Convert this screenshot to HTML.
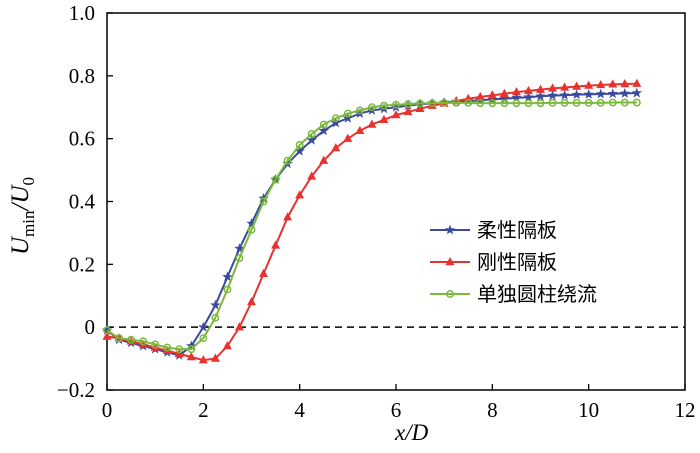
<!DOCTYPE html>
<html><head><meta charset="utf-8"><style>
body{margin:0;background:#fff}
svg{display:block;font-family:"Liberation Serif","Noto Serif CJK SC",serif}
</style></head><body>
<svg id="c" width="700" height="453"></svg>
<script>
const xs=[0,0.25,0.5,0.75,1,1.25,1.5,1.75,2,2.25,2.5,2.75,3,3.25,3.5,3.75,4,4.25,4.5,4.75,5,5.25,5.5,5.75,6,6.25,6.5,6.75,7,7.25,7.5,7.75,8,8.25,8.5,8.75,9,9.25,9.5,9.75,10,10.25,10.5,10.75,11];
const flexible=[-0.01,-0.04,-0.05,-0.06,-0.07,-0.08,-0.09,-0.06,0.0,0.07,0.16,0.25,0.33,0.41,0.47,0.52,0.56,0.595,0.625,0.65,0.665,0.68,0.69,0.695,0.70,0.705,0.71,0.712,0.715,0.718,0.72,0.722,0.725,0.727,0.73,0.732,0.735,0.737,0.738,0.74,0.741,0.742,0.743,0.744,0.745];
const rigid=[-0.03,-0.035,-0.045,-0.055,-0.065,-0.075,-0.085,-0.095,-0.105,-0.10,-0.06,0.0,0.08,0.17,0.26,0.35,0.42,0.48,0.53,0.57,0.60,0.625,0.645,0.66,0.675,0.685,0.695,0.705,0.712,0.72,0.727,0.733,0.738,0.743,0.748,0.752,0.756,0.76,0.763,0.766,0.769,0.771,0.773,0.774,0.775];
const single=[-0.01,-0.035,-0.04,-0.045,-0.055,-0.065,-0.07,-0.07,-0.035,0.03,0.12,0.22,0.31,0.40,0.47,0.53,0.58,0.615,0.645,0.665,0.68,0.69,0.70,0.705,0.708,0.71,0.712,0.713,0.714,0.714,0.714,0.713,0.713,0.713,0.713,0.713,0.713,0.714,0.714,0.714,0.714,0.714,0.715,0.715,0.715];
const xTicks=[0,2,4,6,8,10,12];
const yTicks=[-0.2,0,0.2,0.4,0.6,0.8,1.0];
const yLabels=["\u22120.2","0","0.2","0.4","0.6","0.8","1.0"];
const series=[{name:"柔性隔板",vals:flexible,color:"#3b4a9e",m:"star"},{name:"刚性隔板",vals:rigid,color:"#e8322f",m:"tri"},{name:"单独圆柱绕流",vals:single,color:"#7bb93c",m:"circ"}];
const X0=107,X1=685,Y0=390,Y1=13;
const sx=v=>X0+(v-0)/12*(X1-X0);
const sy=v=>Y0-(v+0.2)/1.2*(Y0-Y1);
const NS="http://www.w3.org/2000/svg";
const svg=document.getElementById('c');
function mk(t,a,p){const e=document.createElementNS(NS,t);for(const k in a)e.setAttribute(k,a[k]);(p||svg).appendChild(e);return e;}
const fr=mk('rect',{x:X0,y:Y1,width:X1-X0,height:Y0-Y1,fill:'none',stroke:'#000','stroke-width':1.5});


xTicks.forEach(t=>{
 const l=mk('line',{x1:sx(t),x2:sx(t),y1:Y0,y2:Y0-6,stroke:'#000','stroke-width':1.3});
 
 
 const tx=mk('text',{x:sx(t),y:Y0+27,'text-anchor':'middle','font-size':21});
 tx.textContent=t;
 
 
});
yTicks.forEach((t,i)=>{
 const l=mk('line',{x1:X0,x2:X0+6,y1:sy(t),y2:sy(t),stroke:'#000','stroke-width':1.3});
 
 
 const tx=mk('text',{x:X0-12,y:sy(t)+7,'text-anchor':'end','font-size':21});
 tx.textContent=yLabels[i];
 
 
});
const zl=mk('line',{x1:X0,x2:X1,y1:sy(0),y2:sy(0),stroke:'#000','stroke-width':1.5,'stroke-dasharray':'7,5'});


function marker(type,x,y,c,g){
 let e;
 if(type==='circ')e=mk('circle',{cx:x,cy:y,r:3.2,fill:'none',stroke:c,'stroke-width':1.5},g);
 else if(type==='tri')e=mk('polygon',{points:`${x},${y-5} ${x-4.5},${y+3.2} ${x+4.5},${y+3.2}`,fill:c},g);
 else{let p=[];for(let k=0;k<10;k++){const r=k%2?2.2:5.5,a=-Math.PI/2+k*Math.PI/5;p.push((x+r*Math.cos(a)).toFixed(1)+','+(y+r*Math.sin(a)).toFixed(1));}e=mk('polygon',{points:p.join(' '),fill:c},g);}
 return e;
}
series.forEach(s=>{
 const g=mk('g',{});
 
 
 const pl=mk('polyline',{points:xs.map((x,i)=>sx(x)+','+sy(s.vals[i])).join(' '),fill:'none',stroke:s.color,'stroke-width':2},g);
 
 
 xs.forEach((x,i)=>{
  const m=marker(s.m,sx(x),sy(s.vals[i]),s.color,g);
  
  
 });
});
const legY=[230,262,294];
series.forEach((s,i)=>{
 const g=mk('g',{});
 
 
 mk('line',{x1:430,x2:470,y1:legY[i],y2:legY[i],stroke:s.color,'stroke-width':2},g);
 marker(s.m,450,legY[i],s.color,g);
 const t=mk('text',{x:477,y:legY[i]+7,'font-size':20,'font-family':'"Noto Sans CJK SC",sans-serif'},g);
 t.textContent=s.name;
});
</script>
<div style="position:absolute;left:-42px;top:200px;width:130px;text-align:center;transform:rotate(-90deg);font:italic 25px 'Liberation Serif',serif;white-space:nowrap">U<sub style="font-style:normal;font-size:17px">min</sub>/U<sub style="font-style:normal;font-size:17px">0</sub></div>
<div style="position:absolute;left:395px;top:420px;font:italic 23px 'Liberation Serif',serif">x/D</div>
</body></html>
